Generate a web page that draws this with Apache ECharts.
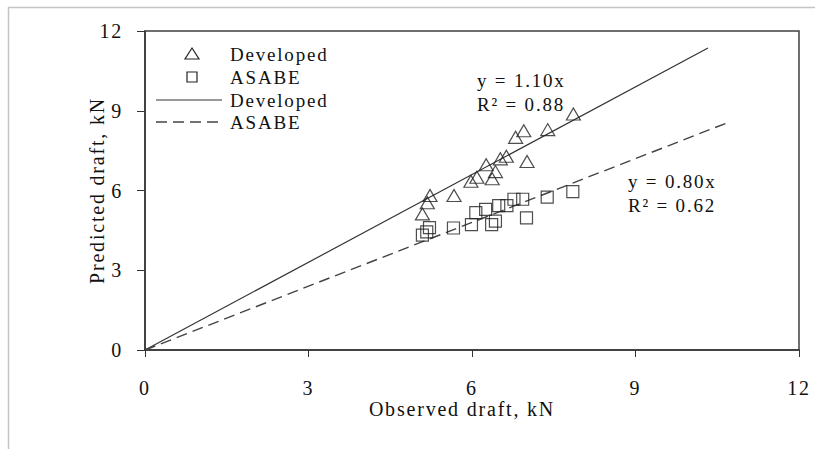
<!DOCTYPE html>
<html>
<head>
<meta charset="utf-8">
<script src="https://cdn.jsdelivr.net/npm/echarts@6/dist/echarts.min.js"></script>
<style>
  html, body { margin: 0; padding: 0; background: #fff; }
  #chart { width: 815px; height: 449px; }
  /* loose spreadsheet-style tracking for all chart text */
  #chart svg text { letter-spacing: 1.8px; }
</style>
</head>
<body>
<div id="chart"></div>
<script>
// Observed vs predicted draft (kN)
const developedObserved = [7.86, 6.95, 6.80, 7.39, 6.63, 6.52, 7.01, 6.26, 6.43, 6.09, 5.98, 6.37, 5.67, 5.23, 5.18, 5.09];
const developedPredicted = [8.88, 8.25, 8.00, 8.29, 7.29, 7.19, 7.09, 6.97, 6.71, 6.50, 6.35, 6.44, 5.81, 5.81, 5.54, 5.12];

const asabeObserved = [7.85, 7.38, 6.93, 6.77, 6.64, 6.49, 6.25, 6.07, 7.00, 6.43, 6.36, 5.99, 5.66, 5.22, 5.17, 5.09];
const asabePredicted = [5.96, 5.75, 5.67, 5.67, 5.43, 5.43, 5.29, 5.17, 4.97, 4.85, 4.72, 4.72, 4.59, 4.60, 4.44, 4.32];

// Regression lines through the origin: y = slope * x
const developedSlope = 1.10;
const asabeSlope = 0.80;
const developedFitX = [0, 10.33];
const asabeFitX = [0, 10.75];

const xTicks = [0, 3, 6, 9, 12];
const yTicks = [0, 3, 6, 9, 12];

const pairs = (xs, ys) => xs.map((x, i) => [x, ys[i]]);
const fit = (xs, k) => xs.map(x => [x, +(k * x).toFixed(4)]);

const serif = '"Liberation Serif", "DejaVu Serif", serif';
const ink = '#222';
const txt = '#111';

const chart = echarts.init(document.getElementById('chart'), null, { renderer: 'svg' });

// hand-built legend block (symbols, line samples and labels)
const legendX = 156, legendIconW = 66, legendTextX = 230;
const legendRows = [54, 77, 100, 122];
const legendLabels = ['Developed', 'ASABE', 'Developed', 'ASABE'];
const legendGraphics = [
  { type: 'polygon', shape: { points: [[192, legendRows[0] - 6], [199, legendRows[0] + 5], [185, legendRows[0] + 5]] },
    style: { fill: 'none', stroke: ink, lineWidth: 1.2 } },
  { type: 'rect', shape: { x: 187, y: legendRows[1] - 5, width: 10, height: 10 },
    style: { fill: 'none', stroke: ink, lineWidth: 1.2 } },
  { type: 'line', shape: { x1: legendX, y1: legendRows[2], x2: legendX + legendIconW, y2: legendRows[2] },
    style: { stroke: '#333', lineWidth: 1.2 } },
  { type: 'line', shape: { x1: legendX, y1: legendRows[3], x2: legendX + legendIconW, y2: legendRows[3] },
    style: { stroke: '#444', lineWidth: 1.4, lineDash: [11, 6] } }
].concat(legendLabels.map((t, i) => ({
  type: 'text', x: legendTextX, y: legendRows[i],
  style: { text: t, font: '19px ' + serif, fill: txt, verticalAlign: 'middle' }
})));

// fit equations next to each line
const fitNotes = [
  { text: 'y = 1.10x', x: 477, y: 80 },
  { text: 'R² = 0.88', x: 477, y: 104 },
  { text: 'y = 0.80x', x: 628, y: 181 },
  { text: 'R² = 0.62', x: 628, y: 205 }
];

chart.setOption({
  animation: false,
  backgroundColor: '#fff',
  textStyle: { fontFamily: serif },
  grid: {
    left: 145, top: 31, right: 16, bottom: 99,
    show: true, borderColor: '#404040', borderWidth: 1.5, backgroundColor: 'transparent'
  },
  xAxis: {
    type: 'value', min: 0, max: 12, interval: 3,
    name: 'Observed draft, kN', nameLocation: 'middle', nameGap: 49, nameMoveOverlap: false,
    nameTextStyle: { fontFamily: serif, fontSize: 20, color: txt, padding: [0, 20, 0, 0] },
    axisLine: { lineStyle: { color: '#333', width: 1.5 } },
    axisTick: { inside: false, length: 7, lineStyle: { color: '#333' } },
    axisLabel: { fontFamily: serif, fontSize: 20, color: txt, margin: 28,
      formatter: v => xTicks.includes(v) ? String(v) : '' },
    splitLine: { show: false }
  },
  yAxis: {
    type: 'value', min: 0, max: 12, interval: 3,
    name: 'Predicted draft, kN', nameLocation: 'middle', nameGap: 38, nameMoveOverlap: false,
    nameTextStyle: { fontFamily: serif, fontSize: 20, color: txt },
    axisLine: { lineStyle: { color: '#333', width: 1.5 } },
    axisTick: { inside: false, length: 8, lineStyle: { color: '#333' } },
    axisLabel: { fontFamily: serif, fontSize: 20, color: txt, margin: 22,
      formatter: v => yTicks.includes(v) ? String(v) : '' },
    splitLine: { show: false }
  },
  series: [
    {
      name: 'Developed', type: 'scatter', symbol: 'triangle', symbolSize: [14, 12],
      itemStyle: { color: 'rgba(255,255,255,0)', borderColor: ink, borderWidth: 1.2 },
      data: pairs(developedObserved, developedPredicted), z: 5
    },
    {
      name: 'ASABE', type: 'scatter', symbol: 'rect', symbolSize: 12,
      itemStyle: { color: 'rgba(255,255,255,0)', borderColor: ink, borderWidth: 1.2 },
      data: pairs(asabeObserved, asabePredicted), z: 5
    },
    {
      name: 'Developed fit', type: 'line', symbol: 'none', silent: true,
      lineStyle: { color: '#333', width: 1.2, type: 'solid' },
      data: fit(developedFitX, developedSlope)
    },
    {
      name: 'ASABE fit', type: 'line', symbol: 'none', silent: true,
      lineStyle: { color: '#444', width: 1.4, type: [11, 6] },
      data: fit(asabeFitX, asabeSlope)
    }
  ],
  graphic: [
    { type: 'line', shape: { x1: 8, y1: 7.5, x2: 815, y2: 7.5 }, style: { stroke: '#c4c4c4', lineWidth: 1.5 } },
    { type: 'line', shape: { x1: 8.5, y1: 7, x2: 8.5, y2: 449 }, style: { stroke: '#c4c4c4', lineWidth: 1.5 } }
  ].concat(fitNotes.map(n => ({
    type: 'text', x: n.x, y: n.y,
    style: { text: n.text, font: '19px ' + serif, fill: txt, verticalAlign: 'middle' }
  }))).concat(legendGraphics)
});
</script>
</body>
</html>
